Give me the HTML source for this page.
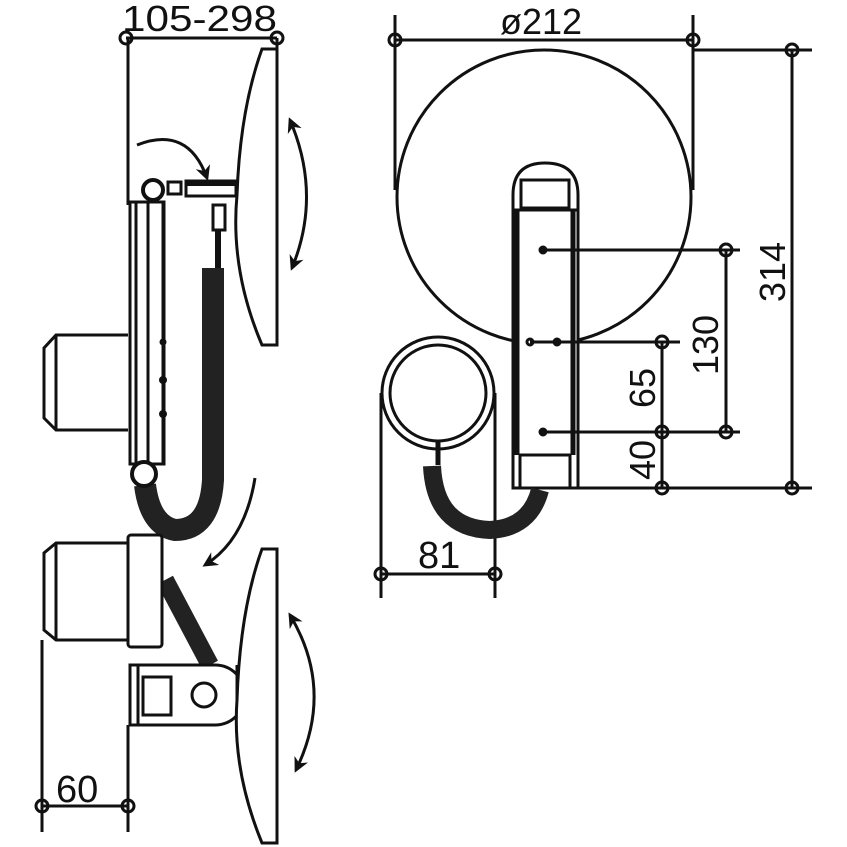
<!DOCTYPE html>
<html><head><style>html,body{margin:0;padding:0;background:#fff}svg{display:block}</style></head><body>
<svg width="847" height="847" viewBox="0 0 847 847" xmlns="http://www.w3.org/2000/svg" fill="none" stroke="#111" stroke-width="3" font-family="Liberation Sans, sans-serif">
<defs>
<marker id="ah" viewBox="0 0 10 10" refX="8" refY="5" markerWidth="5" markerHeight="5" orient="auto-start-reverse"><path d="M0,0 L10,5 L0,10 L3,5 z" fill="#111" stroke="none"/></marker>
</defs>
<g fill="#111" stroke="none" font-size="36">
<text x="122" y="31" textLength="155" lengthAdjust="spacingAndGlyphs">105-298</text>
<text x="500" y="34">ø212</text>
<text x="56" y="802" font-size="38">60</text>
<text x="418" y="568" font-size="38">81</text>
<text transform="translate(785,272) rotate(-90)" text-anchor="middle">314</text>
<text transform="translate(718,345) rotate(-90)" text-anchor="middle">130</text>
<text transform="translate(655,388) rotate(-90)" text-anchor="middle">65</text>
<text transform="translate(655,460) rotate(-90)" text-anchor="middle">40</text>
</g>
<!-- LEFT TOP VIEW -->
<line x1="126" y1="38" x2="277" y2="38"/>
<circle cx="126" cy="38" r="6"/><circle cx="277" cy="38" r="6"/>
<line x1="128" y1="38" x2="128" y2="205"/>
<line x1="277" y1="38" x2="277" y2="346"/>
<path d="M262,49 L277,49 L277,345 L262,345 Q230,270 237,195 Q240,110 262,49 z"/>
<path d="M290,120 Q322,195 292,268" marker-start="url(#ah)" marker-end="url(#ah)" stroke-width="3"/>
<path d="M137,145 Q188,125 207,178" marker-end="url(#ah)" stroke-width="3"/>
<circle cx="153" cy="190" r="10" stroke-width="4"/>
<rect x="168" y="182" width="13" height="12"/>
<rect x="186" y="181" width="50" height="15"/>
<line x1="186" y1="184" x2="236" y2="184" stroke-width="4"/>
<rect x="213" y="205" width="12" height="25"/>
<line x1="218" y1="230" x2="218" y2="270" stroke-width="6"/>
<rect x="130" y="202" width="34" height="262"/>
<line x1="136" y1="202" x2="136" y2="464"/>
<line x1="148" y1="202" x2="148" y2="464"/>
<line x1="163" y1="202" x2="163" y2="464"/>
<circle cx="163" cy="342" r="2" fill="#111"/><circle cx="163" cy="380" r="2.5" fill="#111"/><circle cx="163" cy="414" r="2.5" fill="#111"/>
<path d="M128,335 L56,335 L44,348 L44,418 L56,430 L128,430 M56,335 L56,430"/>
<path d="M213,268 L213,480 Q210,530 175,530 Q150,525 145,485" stroke-width="22" stroke="#222"/>
<circle cx="144" cy="474" r="12" fill="#fff" stroke-width="4"/>
<path d="M255,478 Q245,540 205,565" marker-end="url(#ah)" stroke-width="3"/>
<!-- LEFT BOTTOM VIEW -->
<path d="M165,580 L210,665" stroke-width="18" stroke="#222"/>
<path d="M128,543 L56,543 L44,553 L44,630 L56,640 L128,640 M56,543 L56,640" fill="#fff"/>
<rect x="128" y="535" width="34" height="112" rx="3" fill="#fff"/>
<path d="M130,665 L215,665 A28,28 0 0 1 215,725 L130,725 z" fill="#fff"/>
<rect x="143" y="677" width="28" height="38"/>
<line x1="138" y1="665" x2="138" y2="725"/>
<circle cx="204" cy="695" r="12"/>
<line x1="237" y1="665" x2="237" y2="725"/>
<path d="M262,549 L277,549 L277,843 L262,843 Q232,770 237,700 Q240,610 262,549 z" fill="#fff"/>
<path d="M290,615 Q335,690 296,770" marker-start="url(#ah)" marker-end="url(#ah)" stroke-width="3"/>
<line x1="42" y1="640" x2="42" y2="832"/>
<line x1="128" y1="725" x2="128" y2="832"/>
<line x1="42" y1="806" x2="128" y2="806"/>
<circle cx="42" cy="806" r="6"/><circle cx="128" cy="806" r="6"/>
<!-- RIGHT VIEW -->
<line x1="395" y1="40" x2="693" y2="40"/>
<line x1="693" y1="50" x2="812" y2="50"/>
<circle cx="395" cy="40" r="6"/><circle cx="693" cy="40" r="6"/><circle cx="792" cy="50" r="6"/>
<line x1="395" y1="15" x2="395" y2="190"/>
<line x1="693" y1="15" x2="693" y2="190"/>
<line x1="792" y1="50" x2="792" y2="488"/>
<circle cx="544" cy="197" r="147"/>
<path d="M513,488 L513,195 Q513,163 545,163 Q578,163 578,195 L578,488 z" fill="#fff" stroke-width="3"/>
<rect x="521" y="180" width="48" height="28"/>
<line x1="513" y1="210" x2="578" y2="210"/>
<line x1="516" y1="210" x2="516" y2="455" stroke-width="7"/>
<line x1="573" y1="210" x2="573" y2="455" stroke-width="5"/>
<rect x="520" y="455" width="50" height="33"/>
<line x1="540" y1="250" x2="740" y2="250"/>
<line x1="530" y1="342" x2="680" y2="342"/>
<line x1="540" y1="432" x2="740" y2="432"/>
<line x1="513" y1="488" x2="812" y2="488"/>
<circle cx="543" cy="250" r="3"/><circle cx="530" cy="342" r="3"/><circle cx="557" cy="342" r="3"/><circle cx="543" cy="432" r="3"/>
<line x1="662" y1="342" x2="662" y2="488"/>
<line x1="726" y1="250" x2="726" y2="432"/>
<circle cx="726" cy="250" r="6"/><circle cx="726" cy="432" r="6"/>
<circle cx="662" cy="342" r="6"/><circle cx="662" cy="432" r="6"/><circle cx="662" cy="488" r="6"/><circle cx="792" cy="488" r="6"/>
<circle cx="438" cy="393" r="56"/>
<circle cx="438" cy="393" r="48"/>
<line x1="381" y1="393" x2="381" y2="598"/>
<line x1="495" y1="393" x2="495" y2="598"/>
<line x1="381" y1="574" x2="495" y2="574"/>
<circle cx="381" cy="574" r="6"/><circle cx="495" cy="574" r="6"/>
<line x1="438" y1="441" x2="438" y2="465" stroke-width="5"/>
<path d="M432,466 Q435,528 490,530 Q530,528 540,490" stroke-width="18" stroke="#222"/>
</svg>
</body></html>
